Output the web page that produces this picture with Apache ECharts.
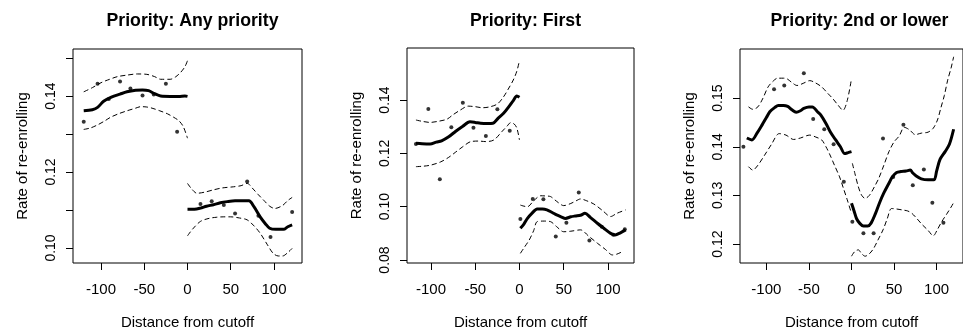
<!DOCTYPE html>
<html>
<head>
<meta charset="utf-8">
<script src="https://cdn.jsdelivr.net/npm/echarts@6/dist/echarts.min.js"></script>
<style>
html,body{margin:0;padding:0;background:#fff;}
#chart{width:963px;height:335px;}
</style>
</head>
<body>
<div id="chart"></div>
<script>
// ---------------- Data ----------------
const panelTitles = ['Priority: Any priority', 'Priority: First', 'Priority: 2nd or lower'];
const xTickValues = [-100, -50, 0, 50, 100];
const yTickValues1 = [0.10, 0.11, 0.12, 0.13, 0.14, 0.15];
const yLabelValues1 = [0.10, 0.12, 0.14];
const yTickValues2 = [0.08, 0.10, 0.12, 0.14];
const yLabelValues2 = [0.08, 0.10, 0.12, 0.14];
const yTickValues3 = [0.12, 0.13, 0.14, 0.15];
const yLabelValues3 = [0.12, 0.13, 0.14, 0.15];

// Panel 1: Any priority
const p1FitLeft = [[-120,0.1361],[-110,0.1364],[-104,0.1370],[-97,0.1386],[-88,0.1397],[-78,0.1405],[-70,0.1411],[-60,0.1415],[-52,0.1416],[-45,0.1414],[-38,0.1406],[-31,0.1400],[-20,0.1399],[-10,0.1399],[-3,0.1400],[0,0.1399]];
const p1UpLeft = [[-120,0.1411],[-110,0.1422],[-100,0.1435],[-90,0.1444],[-81,0.1451],[-70,0.1455],[-58,0.1458],[-47,0.1457],[-38,0.1451],[-31,0.1444],[-20,0.1444],[-14,0.1450],[-8,0.1462],[-3,0.1477],[0,0.1493]];
const p1LoLeft = [[-120,0.1312],[-112,0.1316],[-104,0.1324],[-96,0.1334],[-89,0.1344],[-80,0.1353],[-70,0.1361],[-60,0.1368],[-54,0.1372],[-47,0.1371],[-41,0.1368],[-32,0.1361],[-23,0.1353],[-16,0.1344],[-10,0.1335],[-5,0.1320],[0,0.1289]];
const p1PtsLeft = [[-120,0.1332],[-104,0.1432],[-91,0.1392],[-78,0.1438],[-66,0.1420],[-52,0.1401],[-39,0.1404],[-25,0.1432],[-12,0.1306]];
const p1FitRight = [[0,0.1102],[8,0.1102],[15,0.1105],[22,0.1110],[30,0.1114],[38,0.1119],[46,0.1122],[55,0.1124],[63,0.1124],[71,0.1124],[77,0.1108],[84,0.1082],[90,0.1064],[95,0.1052],[102,0.1049],[111,0.1049],[116,0.1056],[121,0.1061]];
const p1UpRight = [[0,0.1170],[5,0.1155],[11,0.1144],[20,0.1147],[30,0.1153],[40,0.1158],[53,0.1161],[62,0.1164],[69,0.1170],[76,0.1155],[82,0.1140],[88,0.1126],[95,0.1110],[101,0.1104],[110,0.1112],[116,0.1125],[121,0.1133]];
const p1LoRight = [[0,0.1032],[6,0.1050],[15,0.1070],[25,0.1078],[34,0.1081],[42,0.1082],[50,0.1082],[60,0.1079],[69,0.1074],[77,0.1058],[84,0.1039],[92,0.1010],[99,0.0986],[105,0.0979],[110,0.0979],[116,0.0988],[121,0.0999]];
const p1PtsRight = [[15,0.1116],[28,0.1123],[42,0.1113],[55,0.1091],[69,0.1175],[82,0.1085],[96,0.1029],[121,0.1095]];

// Panel 2: First
const p2FitLeft = [[-117,0.1238],[-110,0.1236],[-101,0.1235],[-94,0.1242],[-88,0.1247],[-80,0.1262],[-72,0.1283],[-64,0.1302],[-56,0.1318],[-50,0.1316],[-44,0.1313],[-36,0.1312],[-30,0.1313],[-24,0.1332],[-18,0.1350],[-12,0.1375],[-7,0.1398],[-3,0.1415],[0,0.1410]];
const p2UpLeft = [[-117,0.1325],[-110,0.1320],[-101,0.1316],[-92,0.1320],[-82,0.1328],[-75,0.1345],[-67,0.1362],[-58,0.1377],[-50,0.1375],[-42,0.1371],[-34,0.1374],[-25,0.1385],[-18,0.1412],[-12,0.1445],[-7,0.1475],[-3,0.1508],[0,0.1548]];
const p2LoLeft = [[-117,0.1150],[-108,0.1152],[-100,0.1156],[-89,0.1168],[-80,0.1185],[-72,0.1205],[-64,0.1225],[-55,0.1244],[-46,0.1246],[-38,0.1244],[-29,0.1250],[-20,0.1281],[-14,0.1302],[-10,0.1315],[-6,0.1310],[-3,0.1295],[0,0.1250]];
const p2PtsLeft = [[-117,0.1235],[-103,0.1366],[-90,0.1103],[-77,0.1298],[-64,0.1390],[-52,0.1296],[-38,0.1265],[-25,0.1365],[-11,0.1285]];
const p2FitRight = [[1,0.0919],[5,0.0935],[9,0.0956],[14,0.0975],[20,0.0991],[26,0.0991],[31,0.0988],[37,0.0978],[42,0.0969],[47,0.0962],[52,0.0956],[58,0.0962],[63,0.0965],[69,0.0968],[74,0.0975],[80,0.0960],[88,0.0938],[95,0.0920],[103,0.0900],[108,0.0894],[114,0.0902],[120,0.0913]];
const p2UpRight = [[1,0.1006],[5,0.1002],[9,0.1000],[16,0.1022],[24,0.1041],[30,0.1040],[35,0.1038],[42,0.1020],[50,0.1004],[58,0.1012],[64,0.1022],[69,0.1029],[76,0.1022],[84,0.1010],[94,0.0985],[103,0.0963],[110,0.0975],[120,0.0988]];
const p2LoRight = [[1,0.0825],[6,0.0850],[11,0.0875],[16,0.0910],[20,0.0944],[28,0.0946],[35,0.0944],[42,0.0925],[50,0.0906],[58,0.0908],[69,0.0913],[78,0.0890],[88,0.0863],[97,0.0840],[105,0.0819],[110,0.0822],[116,0.0831]];
const p2PtsRight = [[1,0.0954],[15,0.1029],[27,0.1028],[41,0.0888],[53,0.0940],[67,0.1053],[79,0.0873],[93,0.0925],[106,0.0895],[119,0.0915]];

// Panel 3: 2nd or lower
const p3FitLeft = [[-123,0.1418],[-117,0.1414],[-111,0.1428],[-105,0.1445],[-100,0.1460],[-96,0.1472],[-90,0.1481],[-86,0.1485],[-80,0.1485],[-75,0.1483],[-70,0.1476],[-65,0.1471],[-60,0.1474],[-56,0.1479],[-50,0.1482],[-46,0.1482],[-40,0.1472],[-36,0.1465],[-30,0.1448],[-25,0.1431],[-19,0.1415],[-13,0.1400],[-8,0.1386],[-4,0.1388],[0,0.1390]];
const p3UpLeft = [[-121,0.1482],[-116,0.1477],[-110,0.1482],[-104,0.1500],[-98,0.1523],[-92,0.1535],[-87,0.1541],[-80,0.1541],[-76,0.1540],[-70,0.1532],[-64,0.1526],[-56,0.1531],[-49,0.1536],[-42,0.1531],[-35,0.1523],[-28,0.1510],[-22,0.1499],[-16,0.1486],[-10,0.1475],[-5,0.1495],[0,0.1540]];
const p3LoLeft = [[-121,0.1359],[-116,0.1352],[-110,0.1362],[-102,0.1383],[-94,0.1405],[-85,0.1427],[-77,0.1424],[-68,0.1415],[-60,0.1418],[-49,0.1424],[-42,0.1420],[-35,0.1414],[-30,0.1400],[-26,0.1386],[-20,0.1362],[-14,0.1338],[-9,0.1312],[-5,0.1291],[0,0.1263]];
const p3PtsLeft = [[-127,0.1400],[-91,0.1518],[-79,0.1526],[-56,0.1551],[-45,0.1457],[-32,0.1436],[-21,0.1405],[-9,0.1328]];
const p3FitRight = [[0,0.1284],[3,0.1268],[6,0.1252],[10,0.1242],[14,0.1237],[19,0.1237],[23,0.1243],[28,0.1262],[33,0.1285],[38,0.1305],[44,0.1325],[48,0.1338],[53,0.1347],[58,0.1349],[64,0.1350],[69,0.1352],[72,0.1346],[76,0.1340],[82,0.1334],[90,0.1332],[97,0.1332],[100,0.1350],[104,0.1374],[110,0.1390],[115,0.1405],[120,0.1436]];
const p3UpRight = [[1,0.1366],[4,0.1345],[8,0.1318],[12,0.1300],[16,0.1294],[21,0.1300],[27,0.1318],[32,0.1335],[38,0.1362],[44,0.1390],[50,0.1410],[56,0.1422],[62,0.1440],[68,0.1435],[75,0.1425],[82,0.1428],[90,0.1430],[96,0.1438],[101,0.1455],[105,0.1480],[109,0.1505],[113,0.1537],[117,0.1562],[120,0.1585]];
const p3LoRight = [[0,0.1175],[4,0.1185],[8,0.1188],[12,0.1180],[16,0.1175],[21,0.1180],[26,0.1191],[31,0.1208],[37,0.1229],[42,0.1252],[47,0.1273],[53,0.1272],[60,0.1270],[66,0.1268],[71,0.1263],[77,0.1252],[83,0.1240],[90,0.1228],[96,0.1217],[101,0.1230],[106,0.1246],[112,0.1262],[117,0.1276],[120,0.1285]];
const p3PtsRight = [[1,0.1246],[14,0.1222],[26,0.1222],[37,0.1417],[49,0.1338],[61,0.1445],[72,0.1321],[85,0.1353],[95,0.1285],[108,0.1244]];

// ---------------- Layout ----------------
const FONT = 'Liberation Sans, Arial, sans-serif';
const panels = [
  {title: panelTitles[0], grid:{left:73, top:49, width:229, height:214}, xr:[-132.4,132.4], yr:[0.09605,0.15237],
   yTicks:yTickValues1, yLabels:yLabelValues1,
   fitL:p1FitLeft, fitR:p1FitRight, upL:p1UpLeft, upR:p1UpRight, loL:p1LoLeft, loR:p1LoRight, ptsL:p1PtsLeft, ptsR:p1PtsRight},
  {title: panelTitles[1], grid:{left:407, top:48, width:227, height:215}, xr:[-127.1,129.4], yr:[0.07888,0.1595],
   yTicks:yTickValues2, yLabels:yLabelValues2,
   fitL:p2FitLeft, fitR:p2FitRight, upL:p2UpLeft, upR:p2UpRight, loL:p2LoLeft, loR:p2LoRight, ptsL:p2PtsLeft, ptsR:p2PtsRight},
  {title: panelTitles[2], grid:{left:740, top:49, width:229, height:214}, xr:[-131,131], yr:[0.1161,0.1601],
   yTicks:yTickValues3, yLabels:yLabelValues3,
   fitL:p3FitLeft, fitR:p3FitRight, upL:p3UpLeft, upR:p3UpRight, loL:p3LoLeft, loR:p3LoRight, ptsL:p3PtsLeft, ptsR:p3PtsRight}
];

const option = {
  animation: false,
  backgroundColor: '#fff',
  title: [], grid: [], xAxis: [], yAxis: [], series: []
};

panels.forEach((p, i) => {
  option.title.push({
    text: p.title,
    left: p.grid.left + p.grid.width / 2,
    textAlign: 'center',
    top: 7,
    textStyle: {fontFamily: FONT, fontSize: 17.7, fontWeight: 'bold', color: '#000'}
  });
  option.grid.push(Object.assign({show: true, borderColor: '#000', borderWidth: 1, backgroundColor: 'transparent'}, p.grid));
  option.xAxis.push({
    type: 'value', gridIndex: i, min: p.xr[0], max: p.xr[1], position: 'bottom',
    name: 'Distance from cutoff', nameLocation: 'middle', nameGap: 52,
    nameTextStyle: {fontFamily: FONT, fontSize: 15, color: '#000'},
    axisLine: {show: false, onZero: false},
    splitLine: {show: false},
    axisTick: {show: true, inside: false, length: 7, lineStyle: {color: '#000', width: 1}, customValues: xTickValues},
    axisLabel: {show: true, margin: 19, fontFamily: FONT, fontSize: 15, color: '#000', customValues: xTickValues,
                formatter: v => String(Math.round(v))}
  });
  option.yAxis.push({
    type: 'value', gridIndex: i, min: p.yr[0], max: p.yr[1], position: 'left',
    name: 'Rate of re-enrolling', nameLocation: 'middle', nameGap: 43, nameRotate: 90,
    nameTextStyle: {fontFamily: FONT, fontSize: 15, color: '#000'},
    axisLine: {show: false, onZero: false},
    splitLine: {show: false},
    axisTick: {show: true, inside: false, length: 7, lineStyle: {color: '#000', width: 1}, customValues: p.yTicks},
    axisLabel: {show: true, rotate: 90, margin: 15, fontFamily: FONT, fontSize: 14, color: '#000', customValues: p.yLabels,
                formatter: v => v.toFixed(2)}
  });
  const solid = d => ({type:'line', xAxisIndex:i, yAxisIndex:i, data:d, symbol:'none', smooth:0.3,
                       lineStyle:{color:'#000', width:3}, z:4, silent:true});
  const dashed = d => ({type:'line', xAxisIndex:i, yAxisIndex:i, data:d, symbol:'none', smooth:0.3,
                        lineStyle:{color:'#000', width:1, type:[5,3]}, z:3, silent:true});
  const pts = d => ({type:'scatter', xAxisIndex:i, yAxisIndex:i, data:d, symbol:'circle', symbolSize:4,
                     itemStyle:{color:'#000'}, z:5, silent:true});
  option.series.push(dashed(p.upL), dashed(p.loL), dashed(p.upR), dashed(p.loR),
                     solid(p.fitL), solid(p.fitR), pts(p.ptsL), pts(p.ptsR));
});

const chart = echarts.init(document.getElementById('chart'), null, {renderer: 'canvas'});
chart.setOption(option);
</script>
</body>
</html>
